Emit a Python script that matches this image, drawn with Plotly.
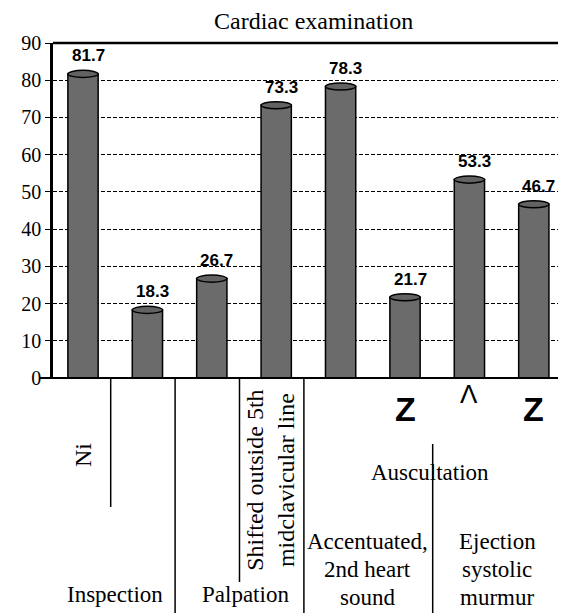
import plotly.graph_objects as go

# ---- data ----
categories = ["Ni", "Inspection-2", "Palpation-1", "Shifted outside 5th midclavicular line",
              "Accentuated 2nd heart sound-1", "Accentuated 2nd heart sound-Z",
              "Ejection systolic murmur-A", "Ejection systolic murmur-Z"]
values = [81.7, 18.3, 26.7, 73.3, 78.3, 21.7, 53.3, 46.7]
y_ticks = [0, 10, 20, 30, 40, 50, 60, 70, 80, 90]
marks = ["", "", "", "", "", "Z", "&#923;", "Z"]
title_text = "Cardiac examination"
groups = ["Inspection", "Palpation"]
aus_title = "Auscultation"
sub_left = ["Accentuated,", "2nd heart", "sound"]
sub_right = ["Ejection", "systolic", "murmur"]
rot_ni = "Ni"
rot_shift = "Shifted outside 5th<br>midclavicular line"

SERIF = "Liberation Serif"
SANS = "Liberation Sans"

# page offset (browser body margin)
OX, OY = 8, 8
W, H = 566 - OX, 613 - OY
x_idx = list(range(len(categories)))
bar_w = 0.47
PLOT_LEFT = 53 - OX
PLOT_TOP, PLOT_BOT = 43 - OY, 378 - OY
PH = PLOT_BOT - PLOT_TOP
PW = W - PLOT_LEFT


def py(pix):
    """convert reference pixel row to paper y"""
    return (PLOT_BOT - (pix - OY)) / PH


fig = go.Figure()
fig.add_trace(go.Bar(
    x=x_idx, y=values, width=bar_w,
    marker=dict(color="#6b6b6b", line=dict(color="black", width=1.5)),
    showlegend=False,
))

# cylinder tops
for i, v in zip(x_idx, values):
    fig.add_shape(type="circle", xref="x", yref="y",
                  x0=i - bar_w / 2, x1=i + bar_w / 2, y0=v - 0.95, y1=v + 0.95,
                  fillcolor="#626262", line=dict(color="black", width=1.5), layer="above")

# value labels
for i, v in zip(x_idx, values):
    fig.add_annotation(x=i, y=v, xref="x", yref="y", text=f"<b>{v:.1f}</b>", showarrow=False,
                       xshift=5, yshift=18, yanchor="middle",
                       font=dict(family=SANS, size=17, color="black"))

# title
fig.add_annotation(x=(313 - 53) / PW, y=py(21), xref="paper", yref="paper", text=title_text,
                   showarrow=False, yanchor="middle", xanchor="center",
                   font=dict(family=SERIF, size=24, color="black"))

# frame lines
fig.add_shape(type="line", xref="paper", yref="paper", x0=0, x1=1, y0=1, y1=1,
              line=dict(color="black", width=2.5))
fig.add_shape(type="line", xref="paper", yref="paper", x0=-13 / PW, x1=1, y0=0, y1=0,
              line=dict(color="black", width=2))

# table separators (x in category units, y in reference pixel rows)
off = 0.43
seps = [(0 + off, 378, 507), (1 + off, 378, 613), (2 + off, 378, 582),
        (3 + off, 378, 613), (5 + off, 444, 613), (6 + off + 0.98, 378, 613)]
for xs, ya, yb in seps:
    fig.add_shape(type="line", xref="x", yref="paper", x0=xs, x1=xs, y0=py(ya), y1=py(yb),
                  line=dict(color="black", width=1.5))

# marks under bars
for i, m in zip(x_idx, marks):
    if m == "Z":
        fig.add_annotation(x=i, y=py(409), xref="x", yref="paper", text=f"<b>{m}</b>", showarrow=False,
                           yanchor="middle", font=dict(family=SANS, size=34, color="black"))
    elif m:
        fig.add_annotation(x=i, y=py(394), xref="x", yref="paper", text=m, showarrow=False,
                           yanchor="middle", font=dict(family=SANS, size=26, color="black"))

# rotated labels
fig.add_annotation(x=0, y=py(455), xref="x", yref="paper", text=rot_ni, showarrow=False,
                   textangle=-90, yanchor="middle", font=dict(family=SERIF, size=24, color="black"))
fig.add_annotation(x=2.9, y=py(480), xref="x", yref="paper", text=rot_shift, showarrow=False,
                   textangle=-90, yanchor="middle", font=dict(family=SERIF, size=24, color="black"))

# group labels
for gx, g in zip([0.5, 2.52], groups):
    fig.add_annotation(x=gx, y=py(594), xref="x", yref="paper", text=g, showarrow=False,
                       yanchor="middle", font=dict(family=SERIF, size=23, color="black"))
fig.add_annotation(x=5.39, y=py(472), xref="x", yref="paper", text=aus_title, showarrow=False,
                   yanchor="middle", font=dict(family=SERIF, size=23, color="black"))
for k, (a, b) in enumerate(zip(sub_left, sub_right)):
    yy = py(541 + 28 * k)
    fig.add_annotation(x=4.41, y=yy, xref="x", yref="paper", text=a, showarrow=False,
                       yanchor="middle", font=dict(family=SERIF, size=23, color="black"))
    fig.add_annotation(x=6.43, y=yy, xref="x", yref="paper", text=b, showarrow=False,
                       yanchor="middle", font=dict(family=SERIF, size=23, color="black"))

fig.update_layout(
    width=W, height=H,
    margin=dict(l=PLOT_LEFT, r=0, t=PLOT_TOP, b=H - PLOT_BOT),
    plot_bgcolor="white",
    xaxis=dict(range=[-0.466, (566 - 83) / 64.4], showticklabels=False, showgrid=False,
               zeroline=False),
    yaxis=dict(range=[0, 90], tickvals=y_ticks,
               ticksuffix="&#160;&#160;",
               showgrid=True, gridcolor="black", griddash="4px,2px",
               zeroline=False, showline=True, linecolor="black", linewidth=2.5,
               ticks="outside", ticklen=5, tickcolor="black",
               tickfont=dict(family=SERIF, size=20, color="black")),
)

fig.write_html("out.html")
